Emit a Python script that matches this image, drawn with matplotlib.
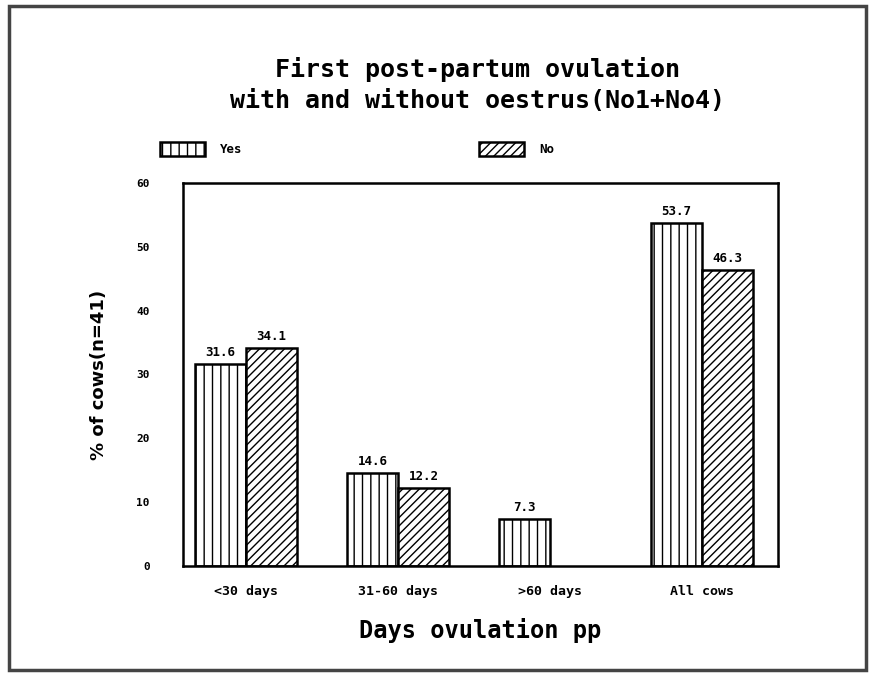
import matplotlib
matplotlib.use("Agg")
import matplotlib.pyplot as plt
import numpy as np
from matplotlib.patches import Rectangle

# data
categories = ['<30 days', '31-60 days', '>60 days', 'All cows']
yes_vals = [31.6, 14.6, 7.3, 53.7]
no_vals = [34.1, 12.2, 0.0, 46.3]
yes_labels = ['31.6', '14.6', '7.3', '53.7']
no_labels = ['34.1', '12.2', '', '46.3']
yticks = [0, 10, 20, 30, 40, 50, 60]

plt.rcParams['hatch.linewidth'] = 1.0

fig = plt.figure(figsize=(8.7, 6.74), dpi=100)
ax = fig.add_axes([183/870, 1 - 566/674, 595/870, 383/674])

x = np.arange(len(categories))
w = 0.335
b1 = ax.bar(x - w/2, yes_vals, w, color='white', edgecolor='black', linewidth=1.8, hatch='||', label='Yes')
b2 = ax.bar(x + w/2, no_vals, w, color='white', edgecolor='black', linewidth=1.8, hatch='////', label='No')
b2[2].set_visible(False)

for i in range(len(x)):
    ax.text(x[i] - w/2, yes_vals[i] + 0.8, yes_labels[i], ha='center', va='bottom',
            family='DejaVu Sans Mono', fontweight='bold', fontsize=9)
    if no_labels[i]:
        ax.text(x[i] + w/2, no_vals[i] + 0.8, no_labels[i], ha='center', va='bottom',
                family='DejaVu Sans Mono', fontweight='bold', fontsize=9)

ax.set_xlim(-0.414, 3.5)
ax.set_ylim(0, 60)
ax.set_yticks(yticks)
ax.set_yticklabels([str(t) for t in yticks], family='DejaVu Sans Mono', fontweight='bold', fontsize=8)
ax.set_xticks(x)
ax.set_xticklabels(categories, family='DejaVu Sans Mono', fontweight='bold', fontsize=9.5)
ax.tick_params(axis='y', length=0, pad=24)
ax.tick_params(axis='x', length=0, pad=14)
for s in ax.spines.values():
    s.set_linewidth(1.8)

ax.set_xlabel('Days ovulation pp', family='DejaVu Sans Mono', fontweight='bold', fontsize=17, labelpad=14)
ax.set_ylabel('% of cows(n=41)', fontweight='bold', fontsize=13, labelpad=20)

fig.text(478/870, 1 - 70/674, 'First post-partum ovulation', ha='center', va='center',
         family='DejaVu Sans Mono', fontweight='bold', fontsize=18)
fig.text(478/870, 1 - 101/674, 'with and without oestrus(No1+No4)', ha='center', va='center',
         family='DejaVu Sans Mono', fontweight='bold', fontsize=18)

fig.legend(handles=[b1, b2], labels=['Yes', 'No'], loc='upper left',
           bbox_to_anchor=(160/870, 1 - 142/674), ncol=2, frameon=False,
           handlelength=3.6, handleheight=1.4, columnspacing=18.9, borderpad=0,
           borderaxespad=0, handletextpad=1.2,
           prop={'family': 'DejaVu Sans Mono', 'weight': 'bold', 'size': 9})

# outer frame
fig.patches.append(Rectangle((9/870, 1 - 670/674), 857/870, 664/674, transform=fig.transFigure,
                             fill=False, edgecolor='#444444', linewidth=2.5, figure=fig))

fig.savefig('out.png', dpi=100)
